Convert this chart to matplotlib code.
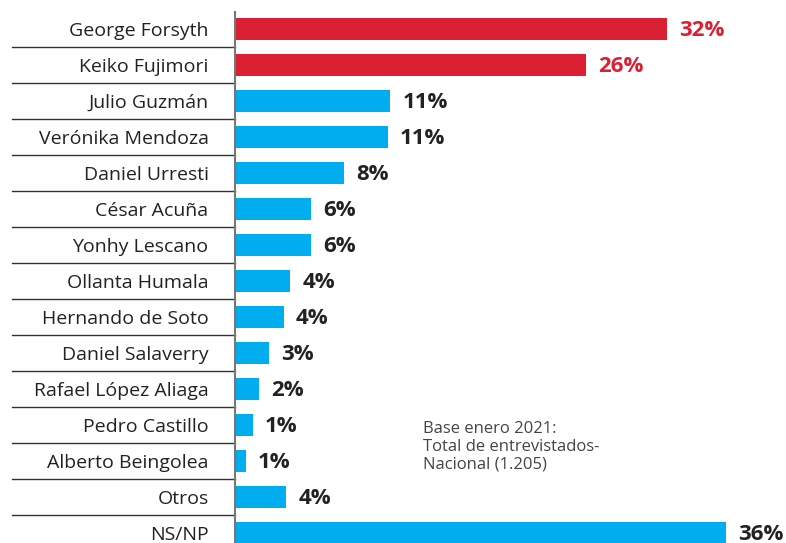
import matplotlib.pyplot as plt

plt.rcParams['font.family'] = ['Open Sans', 'DejaVu Sans']

candidatos = ['George Forsyth', 'Keiko Fujimori', 'Julio Guzmán', 'Verónika Mendoza',
              'Daniel Urresti', 'César Acuña', 'Yonhy Lescano', 'Ollanta Humala',
              'Hernando de Soto', 'Daniel Salaverry', 'Rafael López Aliaga',
              'Pedro Castillo', 'Alberto Beingolea', 'Otros', 'NS/NP']
valores = [32, 26, 11.5, 11.3, 8.1, 5.6, 5.6, 4.1, 3.6, 2.5, 1.8, 1.3, 0.8, 3.8, 36.4]
etiquetas = ['32%', '26%', '11%', '11%', '8%', '6%', '6%', '4%', '4%', '3%',
             '2%', '1%', '1%', '4%', '36%']
destacados = ['George Forsyth', 'Keiko Fujimori']

rojo = '#dc2034'
azul = '#00aeef'

W, H = 786, 543
fig = plt.figure(figsize=(W / 100, H / 100), dpi=100)
# eje: de x=235px al borde derecho, de y=12px al borde inferior
ax = fig.add_axes([235 / W, 0, 1 - 235 / W, 1 - 12 / H])

y = list(range(len(candidatos)))
colores = [rojo if c in destacados else azul for c in candidatos]
ax.barh(y, valores, height=0.6, color=colores)

for i, (v, t) in enumerate(zip(valores, etiquetas)):
    col = rojo if candidatos[i] in destacados else '#222222'
    ax.text(v + 0.9, i + 0.03, t, va='center', ha='left', fontsize=16,
            fontweight='bold', color=col)

ax.set_xlim(0, (W - 235) / 13.5)
ax.set_ylim(14.28, -0.47)

ax.set_yticks(y)
ax.set_yticklabels(candidatos, fontsize=14, color='#222222')
ax.tick_params(axis='y', length=0, pad=19)
ax.set_xticks([])

for s in ['top', 'right', 'bottom']:
    ax.spines[s].set_visible(False)
ax.spines['left'].set_color('#777777')
ax.spines['left'].set_linewidth(1.5)

# líneas separadoras entre filas
x0 = (12 - 235) / (W - 235)
for i in range(len(candidatos) - 1):
    ax.plot([x0, 0], [i + 0.5, i + 0.5], color='#333333', lw=1,
            transform=ax.get_yaxis_transform(), clip_on=False)

ax.text(13.9, 11.6, 'Base enero 2021:\nTotal de entrevistados-\nNacional (1.205)',
        fontsize=12, color='#444444', va='center', ha='left', linespacing=1.15)

fig.savefig('out.png', dpi=100)
